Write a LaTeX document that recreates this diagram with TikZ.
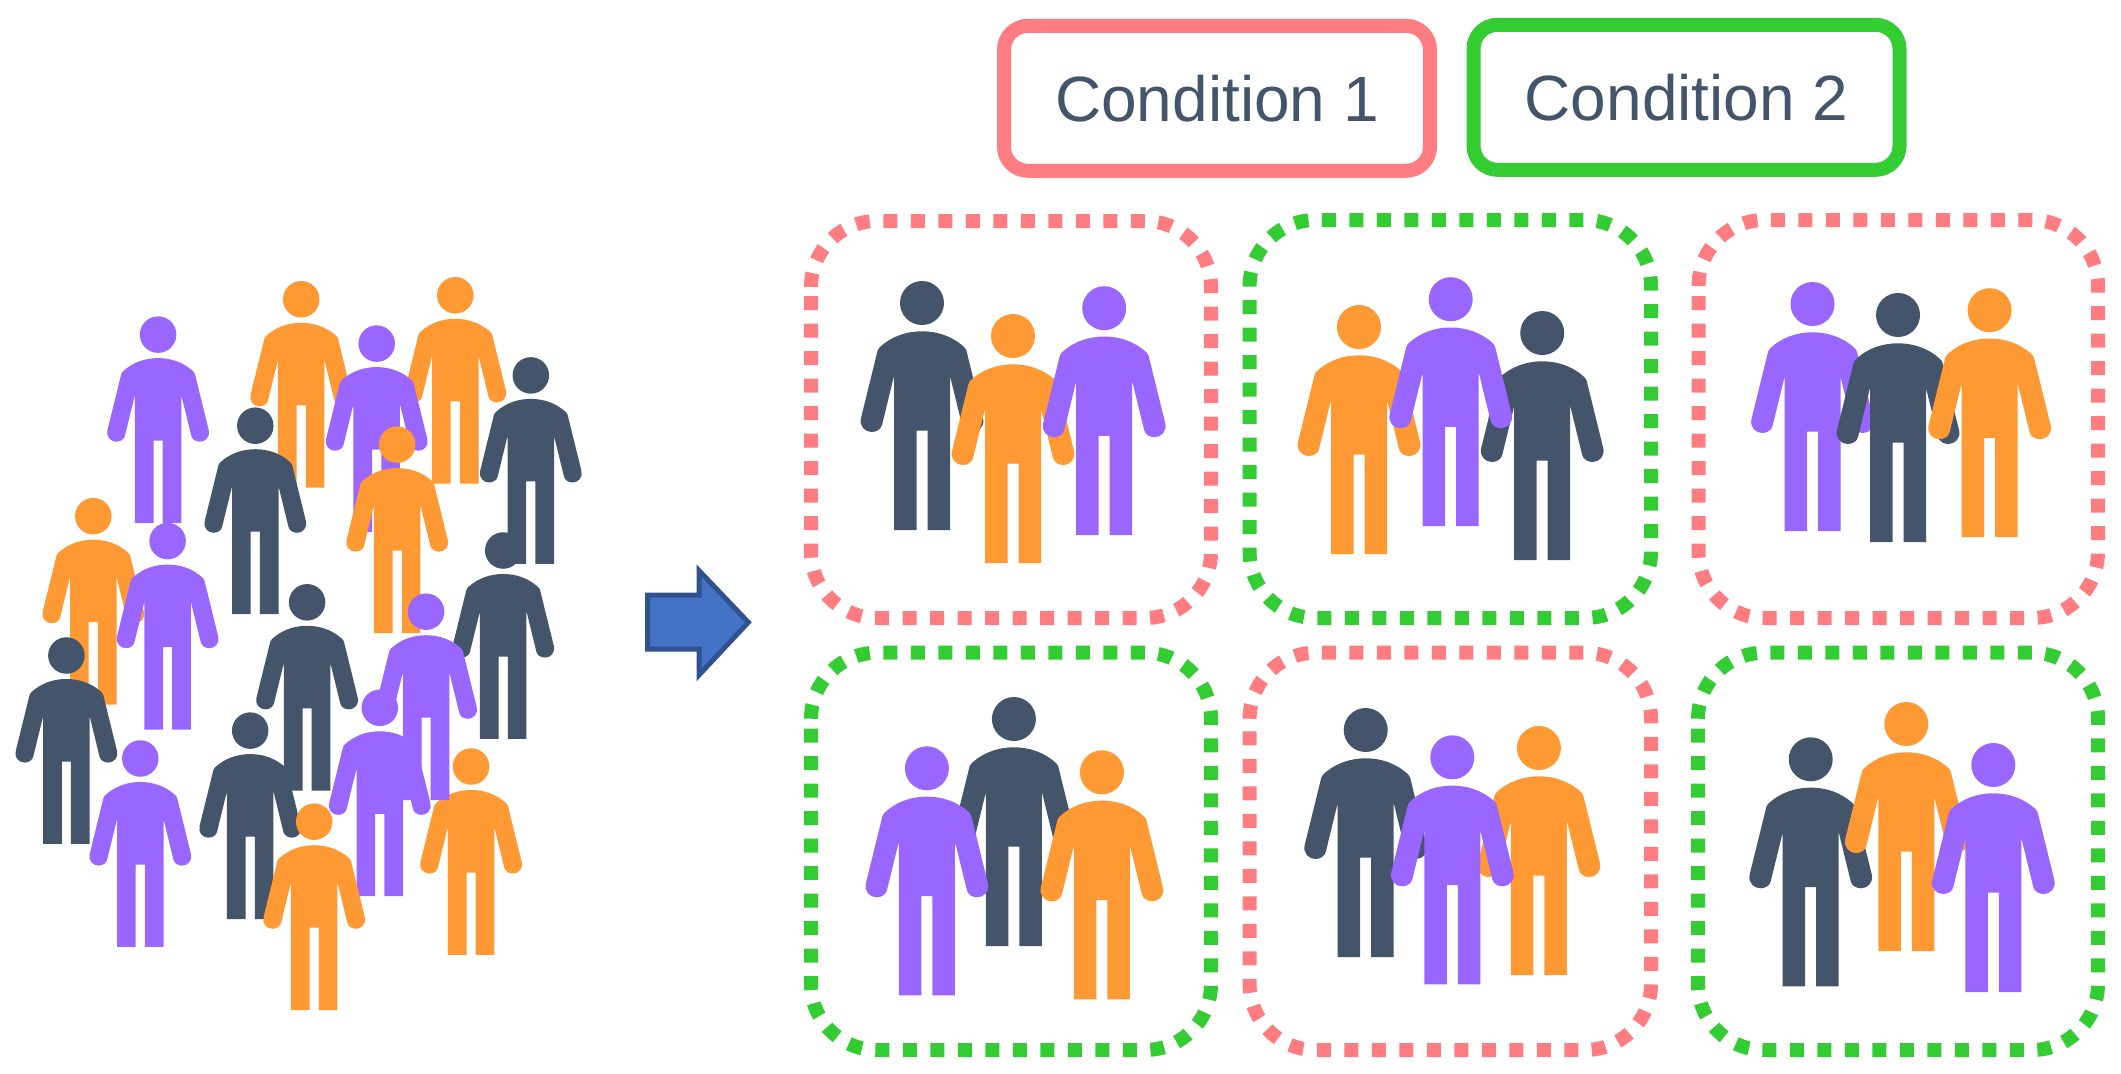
\documentclass[tikz,border=0pt]{standalone}
\usepackage{fontspec}
\setmainfont{Liberation Sans}
\definecolor{Slate}{HTML}{44546A}
\definecolor{Amber}{HTML}{FF9933}
\definecolor{Violet}{HTML}{9966FF}
\definecolor{Rose}{HTML}{FF7C80}
\definecolor{Leaf}{HTML}{33CC33}
\definecolor{ArrowFill}{HTML}{4472C4}
\definecolor{ArrowLine}{HTML}{2F528F}

\begin{document}
\begin{tikzpicture}[
    x=0.1mm,y=-0.1mm,
    cond/.style={draw=#1, line width=1.4mm, fill=white, rounded corners=2.4mm,
      minimum width=42.6mm, minimum height=14.5mm, inner sep=0pt,
      text=Slate, font=\fontsize{18.2pt}{22pt}\selectfont},
    group/.style={draw=#1, line width=1.4mm, dash pattern=on 1.4mm off 1.35mm},
    person/.pic={
      \fill[pic actions] (0,0) circle (22);
      \fill[pic actions] (-42,44) .. controls (-30,33) and (-15,28.3) .. (0,28.3)
        .. controls (15,28.3) and (30,33) .. (42,44)
        .. controls (43.5,45) and (44,47) .. (44.5,48) -- (61,115)
        .. controls (63,123) and (57,129) .. (50.5,129)
        .. controls (45,129) and (41,126) .. (40,122) -- (28,73)
        -- (28,227) -- (5.5,227) -- (5.5,127.7) -- (-5.5,127.7) -- (-5.5,227) -- (-28,227)
        -- (-28,73) -- (-40,122)
        .. controls (-41,126) and (-45,129) .. (-50.5,129)
        .. controls (-57,129) and (-63,123) .. (-61,115) -- (-44.5,48)
        .. controls (-44,47) and (-43.5,45) .. (-42,44) -- cycle;
    }
  ]
    \useasboundingbox (0,0) rectangle (2121,1073);

    % crowd
    \foreach \px/\py/\col in {
      301.2/299.3/Amber, 455.3/295.3/Amber, 376.7/343.6/Violet, 158.1/334.6/Violet,
      530.8/375.4/Slate, 255.3/425.7/Slate, 397.2/444.6/Amber, 93.3/516.2/Amber,
      167.6/541.1/Violet, 503.2/550.5/Slate, 307.1/602.3/Slate, 471.1/766.5/Amber,
      426.1/611.7/Violet, 66.4/655.5/Slate, 379.8/707.8/Violet, 250.2/730.6/Slate,
      140.3/758.5/Violet, 314.2/821.7/Amber}
      \pic[fill=\col, scale=.83] at (\px,\py) {person};

    \draw[line width=0.5mm, draw=ArrowLine, fill=ArrowFill]
      (647.7,595) -- (699,595) -- (699,570.6) -- (748.3,622.3)
      -- (699,675) -- (699,649) -- (647.7,649) -- cycle;

    \node[cond=Rose] (cond1) at (1217,98.3) {Condition 1};
    \node[cond=Leaf] (cond2) at (1686.5,97.3) {Condition 2};

    % dashed groups
    \foreach \xa/\ya/\xb/\yb/\col in {
      811/221/1211/618/Rose, 1249.6/220/1651/618/Leaf, 1698.5/220/2098/618/Rose,
      811/652.7/1211/1050/Leaf, 1249.6/652.7/1651/1050/Rose, 1698/652.7/2098/1050/Leaf}
      \draw[group=\col] (\xa,\ya+66) arc (180:270:66) -- (\xb-66,\ya) arc (270:360:66)
        -- (\xb,\yb-66) arc (0:90:66) -- (\xa+66,\yb) arc (90:180:66) -- cycle;

    % people inside the groups
    \foreach \px/\py/\col in {
      922/303/Slate, 1013/336/Amber, 1104.2/308.2/Violet,
      1359/327/Amber, 1542.2/333/Slate, 1450.7/299.2/Violet,
      1812.5/304/Violet, 1898/315/Slate, 1989.6/310.2/Amber,
      1013.9/719/Slate, 926.9/768.3/Violet, 1101.9/772.3/Amber,
      1365.7/730/Slate, 1538.9/748/Amber, 1452.3/757.3/Violet,
      1810.7/759.3/Slate, 1906.3/724/Amber, 1993.3/765/Violet}
      \pic[fill=\col] at (\px,\py) {person};
  \end{tikzpicture}
\end{document}
